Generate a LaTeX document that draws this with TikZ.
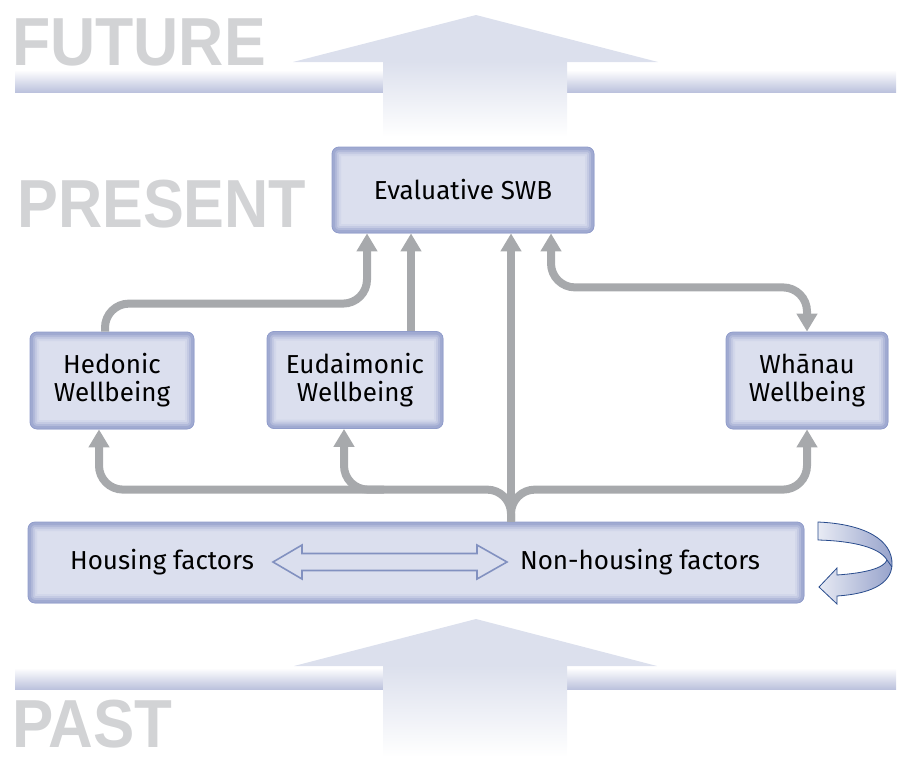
\documentclass[tikz,border=0pt]{standalone}
\usepackage{graphicx}
\usepackage{fontspec}
\setmainfont{Fira Sans}
\newfontfamily\timefont{Liberation Sans}
\usetikzlibrary{arrows.meta,calc}
\definecolor{boxfill}{RGB}{219,223,238}
\definecolor{boxdark}{RGB}{128,141,193}
\definecolor{boxline}{RGB}{145,157,203}
\definecolor{conngray}{RGB}{167,169,172}
\definecolor{timegray}{RGB}{210,211,213}
\definecolor{arrowblue}{RGB}{220,224,237}
\definecolor{bandblue}{RGB}{188,194,221}
\definecolor{swapblue}{RGB}{130,145,192}
\definecolor{loopline}{RGB}{40,75,140}
\definecolor{loopfill}{RGB}{232,235,244}
\definecolor{loopdark}{RGB}{150,162,203}
\begin{document}
\begin{tikzpicture}[x=1pt,y=-1pt,
  wbbox/.style={rounded corners=7, fill=boxfill, draw=boxline, line width=0.8,
    align=center, inner sep=0, font=\fontsize{26}{28}\selectfont,
    path picture={
      \foreach \w/\p in {18/90,14/75,10/55,6/35}
        \draw[line width=\w, draw=boxfill!\p!boxdark, rounded corners=7]
          (path picture bounding box.south west) rectangle (path picture bounding box.north east);
    }},
  conn/.style={draw=conngray, line width=8, rounded corners=24},
  conntip/.style={-{Triangle[width=20pt,length=18pt]}},
  conntips/.style={{Triangle[width=20pt,length=18pt]}-{Triangle[width=20pt,length=18pt]}},
  timeword/.style={anchor=base west, inner sep=0, text=timegray,
    font=\timefont\bfseries\fontsize{68}{68}\selectfont}]
  \useasboundingbox (0,0) rectangle (904,771);

  % time bands and big arrows
  \shade[top color=white, bottom color=bandblue] (15,70) rectangle (896,92);
  \shade[top color=white, bottom color=bandblue] (15,668) rectangle (896,689);
  \fill[arrowblue] (293,62) -- (476,15) -- (658,62) -- cycle;
  \shade[top color=arrowblue, bottom color=white] (383,61.5) rectangle (567,137);
  \fill[arrowblue] (294,666) -- (476,619) -- (657,666) -- cycle;
  \shade[top color=arrowblue, bottom color=white] (383,665.5) rectangle (567,757);

  \node[timeword] (future) at (12,65) {\scalebox{0.92}[1]{FUTURE}};
  \node[timeword] (present) at (17,227) {\scalebox{0.90}[1]{PRESENT}};
  \node[timeword] (past) at (12,747) {\scalebox{0.91}[1]{PAST}};

  % boxes
  \node[wbbox, minimum width=262, minimum height=86] (eval) at (463,190) {Evaluative SWB};
  \node[wbbox, minimum width=164, minimum height=97] (hed) at (112,380.5) {Hedonic\\Wellbeing};
  \node[wbbox, minimum width=176, minimum height=97] (eud) at (355,380) {Eudaimonic\\Wellbeing};
  \node[wbbox, minimum width=162, minimum height=97] (wha) at (807,380.5) {Whānau\\Wellbeing};
  \node[wbbox, minimum width=776, minimum height=81] (base) at (416,562.5) {};
  \node[font=\fontsize{26}{28}\selectfont] (housing) at (162,562) {Housing factors};
  \node[font=\fontsize{26}{28}\selectfont] (nonhousing) at (640,562) {Non-housing factors};

  % swap arrow
  \coordinate (swapL) at (273,562);
  \coordinate (swapR) at (507,562);
  \draw[swapblue, line width=1.6] (swapL) -- ++(29,-17) -- ++(0,8.5)
    -- ($(swapR)+(-30,-8.5)$) -- ++(0,-8.5) -- (swapR) -- ++(-30,17) -- ++(0,-8.5)
    -- ($(swapL)+(29,8.5)$) -- ++(0,8.5) -- cycle;

  % loop arrow
  \shadedraw[left color=loopfill, right color=loopdark, draw=loopline, line width=0.8]
    (818,522) .. controls (865,524) and (893,540) .. (892,565)
    .. controls (891,585) and (868,594) .. (837,596) -- (837,604) -- (819,587)
    -- (837,568) -- (837,575) .. controls (866,573) and (884,568) .. (887,560)
    .. controls (880,548) and (855,541) .. (818,540) -- cycle;
  \draw[loopline, line width=0.8] (887,560) -- (892,567);

  % connectors
  \coordinate (trunk) at ([xshift=48]eval.south |- base.north);
  \coordinate (hub) at ($(trunk)+(0,-32)$);
  \draw[conn, conntip] (trunk) -- ([xshift=48]eval.south);
  \draw[conn, conntip] ([xshift=-7]hed.north) -- ++(0,-28) -| ([xshift=-96]eval.south);
  \draw[conn, conntip] ([xshift=56]eud.north) -- ([xshift=56]eud.north |- eval.south);
  \draw[conn, conntips] ([xshift=88]eval.south) -- ++(0,54) -| (wha.north);
  \draw[conn, conntip] (trunk) |- ([xshift=-13]hed.south |- hub) -- ([xshift=-13]hed.south);
  \draw[conn, conntip] (trunk) |- (wha.south |- hub) -- (wha.south);
  \draw[conn, conntip] ([xshift=29]eud.south |- hub) -| ([xshift=-11]eud.south);
\end{tikzpicture}
\end{document}
